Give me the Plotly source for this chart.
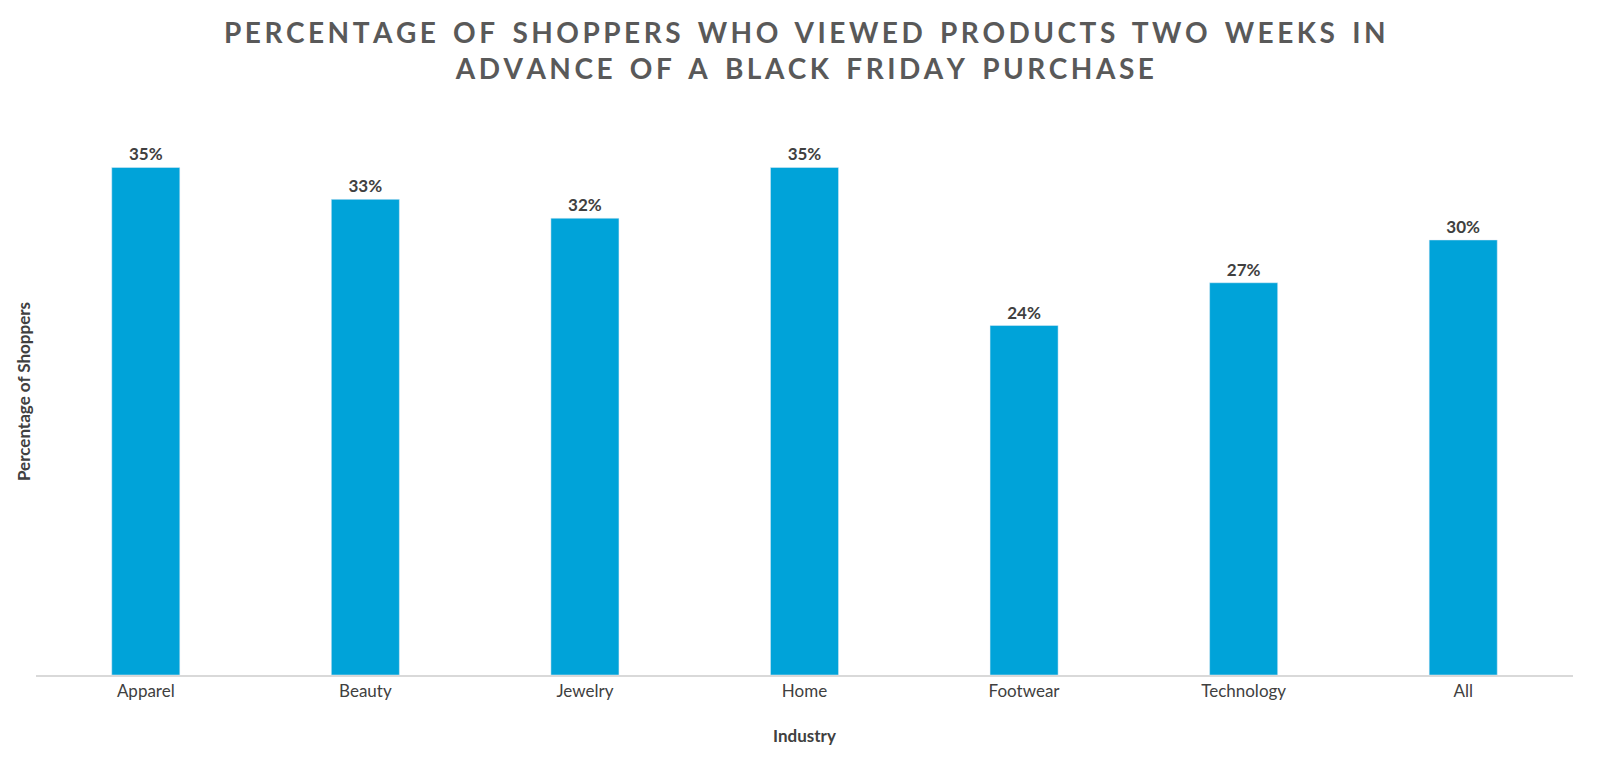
import plotly.graph_objects as go

categories = ["Apparel", "Beauty", "Jewelry", "Home", "Footwear", "Technology", "All"]
values = [35, 32.8, 31.5, 35, 24.1, 27.05, 30]
labels = ["35%", "33%", "32%", "35%", "24%", "27%", "30%"]

def spaced(s):
    return "\u2009".join(" " if c == " " else c for c in s).replace("\u2009 \u2009", "\u2009\u2009\u2009 ")

title = spaced("PERCENTAGE OF SHOPPERS WHO VIEWED PRODUCTS TWO WEEKS IN") + "<br>" + spaced("ADVANCE OF A BLACK FRIDAY PURCHASE")

fig = go.Figure(go.Bar(
    x=categories, y=values, text=labels, textposition="outside",
    marker_color="#00A3D9", cliponaxis=False,
    textfont=dict(family="Lato", size=17, color="#404040", weight="bold"),
))
fig.add_annotation(text=title, xref="paper", yref="paper", x=0.5, y=1.0, yshift=95,
                   xanchor="center", yanchor="top", showarrow=False,
                   font=dict(family="Lato", size=28, color="#595959", weight="bold"))
fig.update_layout(
    width=1613, height=777, plot_bgcolor="white", paper_bgcolor="white",
    margin=dict(l=28, r=48, t=100, b=110),
    bargap=0.69,
    xaxis=dict(showline=True, linecolor="#D9D9D9", linewidth=1.5,
               tickfont=dict(family="Lato", size=17, color="#404040"),
               title=dict(text="Industry", font=dict(family="Lato", size=17, color="#404040", weight="bold"), standoff=30)),
    yaxis=dict(range=[0, 39.1], showgrid=False, showticklabels=False, zeroline=False,
               title=dict(text="Percentage of Shoppers", font=dict(family="Lato", size=17, color="#404040", weight="bold"), standoff=0)),
    showlegend=False,
)
fig.write_html("out.html")
